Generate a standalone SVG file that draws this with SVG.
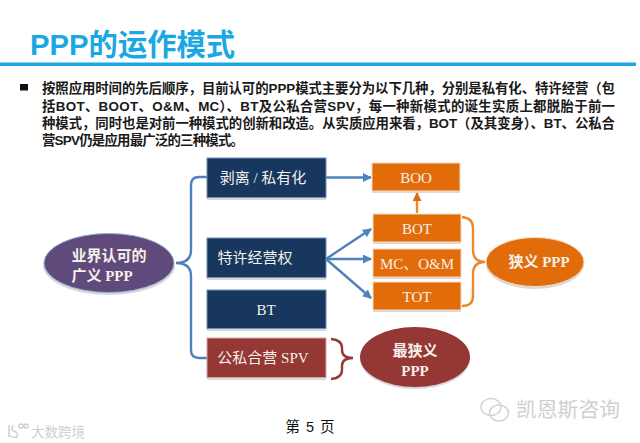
<svg xmlns="http://www.w3.org/2000/svg" width="640" height="443" viewBox="0 0 640 443">
<style>
text{font-family:"Liberation Serif","Noto Sans CJK SC",serif;text-anchor:middle;fill:#f4f1ea;font-size:15px}
.b{font-weight:bold}
.body{font-family:"Liberation Sans","Noto Sans CJK SC",sans-serif;font-weight:bold;font-size:13.4px;fill:#1a1a1a;text-anchor:start}
.title{font-family:"Liberation Sans","Noto Sans CJK SC",sans-serif;font-weight:bold;font-size:29.300px;fill:#1ba8e2;text-anchor:start}
.shadow{fill:#c9c9c9;opacity:.7}
.navy{fill:#17375e;stroke:#6f8fb5;stroke-width:1}
.org{fill:#e36c0a;stroke:#f6d9bd;stroke-width:1}
.red{fill:#953735;stroke:#d9a5a4;stroke-width:1}
.con{fill:none;stroke-width:2.4}
.blue{stroke:#4f81bd}
.o{stroke:#e88a2e}
.r{stroke:#953735}
.wm{font-family:"Noto Sans CJK SC",sans-serif;fill:#d0d0d0;text-anchor:start}
</style>
<defs>
<marker id="ab" markerWidth="10" markerHeight="10" refX="8" refY="4.500" orient="auto" markerUnits="userSpaceOnUse"><path d="M0 0L9 4.500L0 9Z" fill="#4f81bd"/></marker>
<marker id="ao" markerWidth="10" markerHeight="10" refX="8" refY="4.500" orient="auto" markerUnits="userSpaceOnUse"><path d="M0 0L9 4.500L0 9Z" fill="#e36c0a"/></marker>
</defs>
<rect width="640" height="443" fill="#fff"/>
<g id="header">
<text class="title" x="30" y="55">PPP的运作模式</text>
<rect x="0" y="62.500" width="636" height="3.500" fill="#1ba8e2"/>
<rect x="20" y="84" width="8" height="6.500" fill="#111"/>
<text class="body" x="42" y="93" textLength="573" lengthAdjust="spacing">按照应用时间的先后顺序，目前认可的PPP模式主要分为以下几种，分别是私有化、特许经营（包</text>
<text class="body" x="42" y="110.500" textLength="573" lengthAdjust="spacing">括BOT、BOOT、O&amp;M、MC）、BT及公私合营SPV，每一种新模式的诞生实质上都脱胎于前一</text>
<text class="body" x="42" y="128" textLength="573" lengthAdjust="spacing">种模式，同时也是对前一种模式的创新和改造。从实质应用来看，BOT（及其变身）、BT、公私合</text>
<text class="body" x="42" y="145" textLength="202" lengthAdjust="spacing">营SPV仍是应用最广泛的三种模式。</text>
</g>
<g id="connectors">
<path class="con blue" d="M207 177H199Q191 177 191 185V250Q191 263 176 263Q191 263 191 276V350Q191 358 199 358H207"/>
<path class="con blue" d="M326 177.500H371" marker-end="url(#ab)"/>
<path class="con blue" d="M326 259L371 229" marker-end="url(#ab)"/>
<path class="con blue" d="M326 259H371" marker-end="url(#ab)"/>
<path class="con blue" d="M326 259L371 298" marker-end="url(#ab)"/>
<path class="con o" d="M417 213V193" marker-end="url(#ao)"/>
<path class="con o" d="M462 217Q473 218 473 228V250Q473 262 485 262Q473 262 473 274V296Q473 306 462 306"/>
<path class="con r" d="M331 339Q342 340 342 348V350Q342 358 353 358Q342 358 342 366V370Q342 378 331 379"/>
</g>
<g id="n-ppp"><ellipse class="shadow" cx="109" cy="265" rx="66" ry="30"/><ellipse cx="109" cy="263" rx="65" ry="29.500" fill="#604a7b" stroke="#8fb0d6" stroke-width="1"/><text class="b" x="109" y="261">业界认可的</text><text class="b" x="102" y="281">广义 PPP</text></g>
<g id="n-private"><rect class="shadow" x="207" y="160" width="119" height="40"/><rect class="navy" x="207" y="158" width="119" height="39.500"/><text x="263" y="183">剥离 / 私有化</text></g>
<g id="n-franchise"><rect class="shadow" x="207" y="240" width="119" height="40"/><rect class="navy" x="207" y="238" width="119" height="39.500"/><text x="255" y="263">特许经营权</text></g>
<g id="n-bt"><rect class="shadow" x="207" y="292" width="119" height="39"/><rect class="navy" x="207" y="290" width="119" height="38.500"/><text x="266" y="315">BT</text></g>
<g id="n-spv"><rect class="shadow" x="207" y="340" width="119" height="40"/><rect class="red" x="207" y="338" width="119" height="39.500"/><text x="263" y="363">公私合营 SPV</text></g>
<g id="n-boo"><rect class="shadow" x="372" y="165" width="88" height="28"/><rect class="org" x="372" y="163" width="88" height="28"/><text x="416" y="183">BOO</text></g>
<g id="n-bot"><rect class="shadow" x="373" y="216" width="88" height="28"/><rect class="org" x="373" y="214" width="88" height="28"/><text x="417" y="234">BOT</text></g>
<g id="n-mc"><rect class="shadow" x="373" y="251" width="88" height="28"/><rect class="org" x="373" y="249" width="88" height="28"/><text x="417" y="269">MC、O&amp;M</text></g>
<g id="n-tot"><rect class="shadow" x="373" y="284" width="88" height="28"/><rect class="org" x="373" y="282" width="88" height="28"/><text x="417" y="302">TOT</text></g>
<g id="n-narrow"><ellipse class="shadow" cx="535" cy="264" rx="49" ry="25"/><ellipse cx="535" cy="262" rx="49" ry="24.500" fill="#e36c0a" stroke="#f6d9bd"/><text class="b" x="539" y="267">狭义 PPP</text></g>
<g id="n-narrowest"><ellipse class="shadow" cx="415" cy="359" rx="55" ry="30"/><ellipse cx="415" cy="357" rx="55" ry="30" fill="#953735"/><text class="b" x="415" y="356">最狭义</text><text class="b" x="415" y="376">PPP</text></g>
<g id="footer">
<text x="310" y="432" style="font-family:'Liberation Sans','Noto Sans CJK SC',sans-serif;fill:#111;font-size:14.500px;word-spacing:2px">第 5 页</text>
<g fill="none" stroke="#d2d2d2" stroke-width="1.500"><ellipse cx="491" cy="407" rx="10" ry="8.500"/><ellipse cx="499" cy="413" rx="9.500" ry="8"/></g>
<text class="wm" x="516" y="417" style="font-size:20.800px">凯恩斯咨询</text>
<g fill="none" stroke="#cfcfcf" stroke-width="1.500"><path d="M9 425V437M13 425Q10 431 14 431Q19 433 17 437Q13 438 10 436"/><circle cx="21" cy="426" r="2"/><circle cx="26" cy="426" r="2"/></g>
<text class="wm" x="31" y="437" style="font-size:13.500px">大数跨境</text>
</g>
</svg>
